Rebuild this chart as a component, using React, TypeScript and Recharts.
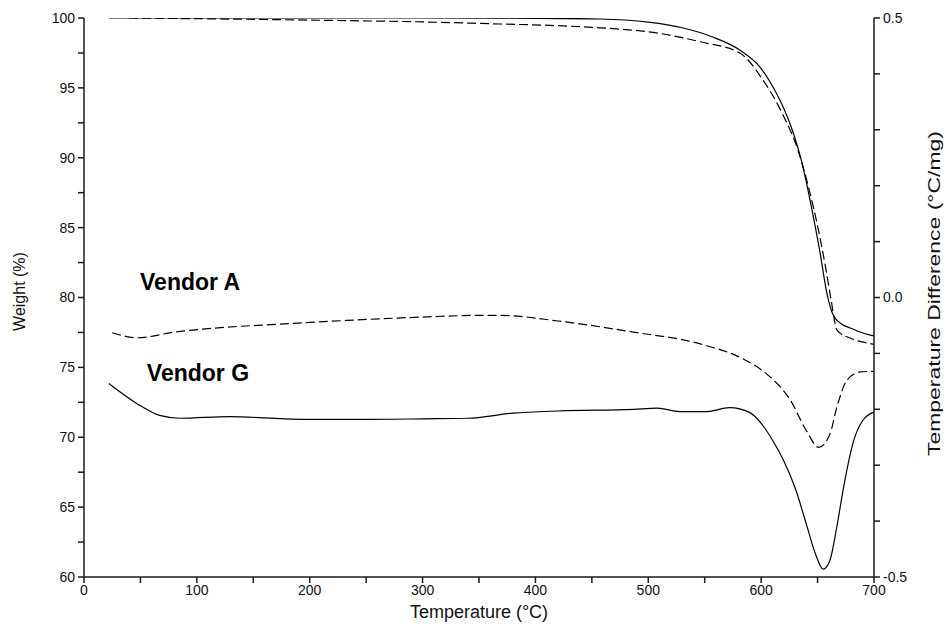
import React from "react";
import {
  ComposedChart,
  Line,
  XAxis,
  YAxis,
  ReferenceDot,
} from "recharts";

// TGA weight curves (left axis, %)
const tgaTempG = [22, 100, 200, 300, 400, 457, 500, 530, 557, 581, 599, 612, 620, 628, 636, 644, 652, 658.5, 663.5, 670, 679, 696, 700];
const tgaWeightG = [100, 100, 100, 100, 99.98, 99.93, 99.7, 99.3, 98.64, 97.71, 96.49, 94.85, 93.55, 91.9, 89.7, 86.7, 83.3, 80.2, 78.8, 78.18, 77.82, 77.32, 77.25];

const tgaTempA = [40, 100, 200, 300, 369, 420, 457, 510, 546, 581, 601.6, 619.4, 632.6, 641.5, 650.4, 657.5, 662, 667.2, 678.7, 694, 700];
const tgaWeightA = [100, 99.95, 99.85, 99.72, 99.57, 99.45, 99.3, 98.9, 98.3, 97.5, 95.56, 93.06, 90.55, 88.05, 84.97, 81.97, 79.82, 77.67, 77.1, 76.74, 76.65];

// DTA temperature difference curves (right axis, °C/mg)
const dtaTempA = [25, 47, 80, 114, 170, 233, 300, 351, 369, 420, 487, 546, 587, 605, 626, 640, 651, 661, 667, 676, 688, 700];
const dtaDiffA = [-0.063, -0.072, -0.062, -0.055, -0.048, -0.041, -0.035, -0.032, -0.032, -0.042, -0.062, -0.083, -0.113, -0.137, -0.184, -0.238, -0.268, -0.244, -0.197, -0.148, -0.133, -0.132];

const dtaTempG = [22, 47, 67, 85, 129, 191, 250, 300, 340, 380, 420, 487, 508, 528, 552, 572, 590, 600, 610, 620, 630, 640, 648, 655, 661, 667, 673, 682, 690, 700];
const dtaDiffG = [-0.154, -0.19, -0.211, -0.216, -0.213, -0.218, -0.218, -0.217, -0.216, -0.207, -0.203, -0.2, -0.198, -0.204, -0.204, -0.197, -0.206, -0.225, -0.255, -0.292, -0.34, -0.405, -0.458, -0.486, -0.47, -0.411, -0.34, -0.256, -0.22, -0.205];

const xTicks = [0, 50, 100, 150, 200, 250, 300, 350, 400, 450, 500, 550, 600, 650, 700];
const leftTicks = [60, 62.5, 65, 67.5, 70, 72.5, 75, 77.5, 80, 82.5, 85, 87.5, 90, 92.5, 95, 97.5, 100];
const rightTicks = [-0.5, -0.4, -0.3, -0.2, -0.1, 0, 0.1, 0.2, 0.3, 0.4, 0.5];
const rightLabels = [-0.5, 0, 0.5];

const toPoints = (xs: number[], ys: number[], key: string) =>
  xs.map((t, i) => ({ T: t, [key]: ys[i] }));

const FONT = "'Liberation Sans', Arial, sans-serif";
const AXIS = "#1a1a1a";
const tickStyle = { fontSize: 14, fill: "#111", fontFamily: FONT };

export default function App() {
  return (
    <div style={{ position: "absolute", left: 0, top: 0, background: "#fff" }}>
      <ComposedChart
        width={945}
        height={630}
        margin={{ top: 18, right: 11, bottom: 23, left: 24 }}
        style={{ fontFamily: FONT }}
      >
        <XAxis
          xAxisId="b"
          type="number"
          dataKey="T"
          domain={[0, 700]}
          ticks={xTicks}
          interval={0}
          allowDataOverflow
          tickFormatter={(v: number) => (v % 100 === 0 ? String(v) : "")}
          tick={tickStyle}
          tickSize={6}
          tickMargin={2}
          height={30}
          stroke={AXIS}
          strokeWidth={1.5}
          label={{
            content: (p: any) => (
              <text
                x={p.viewBox.x + p.viewBox.width / 2}
                y={p.viewBox.y + 41}
                textAnchor="middle"
                fontSize={18}
                fontFamily={FONT}
                fill="#111"
              >
                Temperature (°C)
              </text>
            ),
          }}
        />
        <XAxis
          xAxisId="t"
          orientation="top"
          type="number"
          dataKey="T"
          domain={[0, 700]}
          height={0}
          tick={false}
          tickLine={false}
          stroke={AXIS}
          strokeWidth={1.5}
        />
        <YAxis
          yAxisId="left"
          domain={[60, 100]}
          ticks={leftTicks}
          interval={0}
          allowDataOverflow
          tickFormatter={(v: number) => (v % 5 === 0 ? String(v) : "")}
          tick={tickStyle}
          tickSize={6}
          tickMargin={3}
          width={60}
          stroke={AXIS}
          strokeWidth={1.5}
          label={{
            content: (p: any) => {
              const cx = p.viewBox.x - 5;
              const cy = p.viewBox.y + p.viewBox.height / 2 - 6;
              return (
                <text
                  x={cx}
                  y={cy}
                  transform={`rotate(-90 ${cx} ${cy})`}
                  textAnchor="middle"
                  dominantBaseline="central"
                  fontSize={16}
                  fontFamily={FONT}
                  fill="#111"
                >
                  Weight (%)
                </text>
              );
            },
          }}
        />
        <YAxis
          yAxisId="right"
          orientation="right"
          domain={[-0.5, 0.5]}
          ticks={rightTicks}
          interval={0}
          allowDataOverflow
          tickFormatter={(v: number) =>
            rightLabels.some((r) => Math.abs(r - v) < 1e-9) ? v.toFixed(1) : ""
          }
          tick={tickStyle}
          tickSize={6}
          tickMargin={3}
          width={60}
          stroke={AXIS}
          strokeWidth={1.5}
          label={{
            content: (p: any) => {
              const cx = p.viewBox.x + 60;
              const cy = p.viewBox.y + p.viewBox.height / 2 - 4;
              return (
                <text
                  x={cx}
                  y={cy}
                  transform={`rotate(-90 ${cx} ${cy})`}
                  textAnchor="middle"
                  dominantBaseline="central"
                  fontSize={17}
                  fontFamily={FONT}
                  fill="#111"
                  textLength={325}
                  lengthAdjust="spacingAndGlyphs"
                >
                  Temperature Difference (°C/mg)
                </text>
              );
            },
          }}
        />

        <Line
          xAxisId="b"
          yAxisId="left"
          data={toPoints(tgaTempG, tgaWeightG, "w")}
          dataKey="w"
          type="monotone"
          stroke="#000"
          strokeWidth={1.2}
          dot={false}
          isAnimationActive={false}
        />
        <Line
          xAxisId="b"
          yAxisId="left"
          data={toPoints(tgaTempA, tgaWeightA, "w")}
          dataKey="w"
          type="monotone"
          stroke="#000"
          strokeWidth={1.2}
          strokeDasharray="9 4"
          dot={false}
          isAnimationActive={false}
        />
        <Line
          xAxisId="b"
          yAxisId="right"
          data={toPoints(dtaTempA, dtaDiffA, "d")}
          dataKey="d"
          type="monotone"
          stroke="#000"
          strokeWidth={1.2}
          strokeDasharray="9 4"
          dot={false}
          isAnimationActive={false}
        />
        <Line
          xAxisId="b"
          yAxisId="right"
          data={toPoints(dtaTempG, dtaDiffG, "d")}
          dataKey="d"
          type="monotone"
          stroke="#000"
          strokeWidth={1.2}
          dot={false}
          isAnimationActive={false}
        />

        <ReferenceDot
          xAxisId="b"
          yAxisId="left"
          x={94}
          y={81.1}
          r={0}
          fill="none"
          stroke="none"
          label={{ value: "Vendor A", position: "center", fontSize: 23, fontWeight: 700, fill: "#000", fontFamily: FONT }}
        />
        <ReferenceDot
          xAxisId="b"
          yAxisId="left"
          x={101}
          y={74.6}
          r={0}
          fill="none"
          stroke="none"
          label={{ value: "Vendor G", position: "center", fontSize: 23, fontWeight: 700, fill: "#000", fontFamily: FONT }}
        />
      </ComposedChart>
    </div>
  );
}
